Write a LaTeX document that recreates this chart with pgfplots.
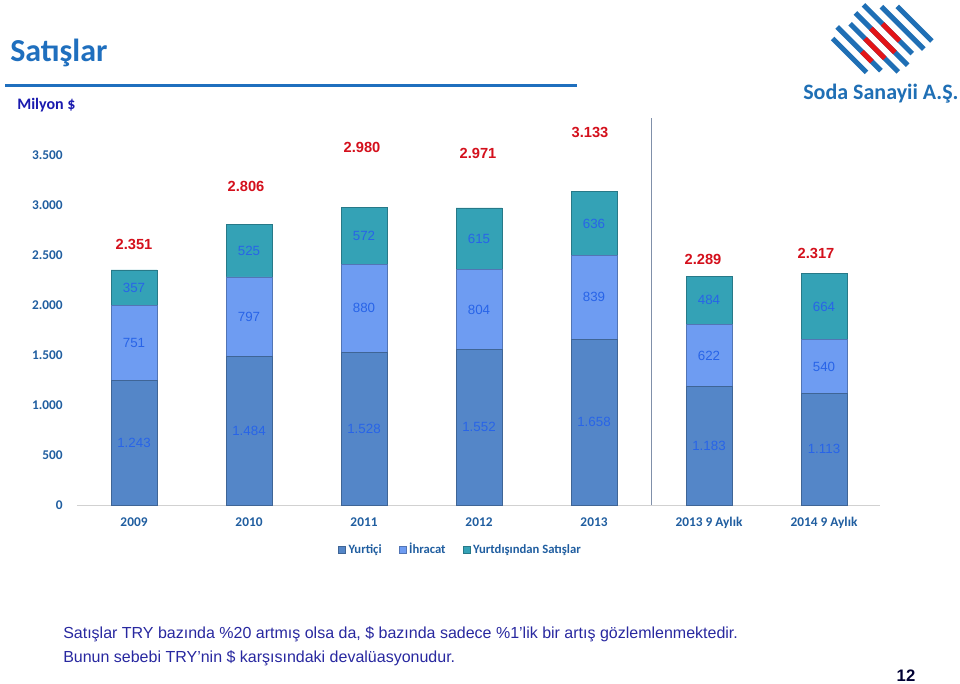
\documentclass[border=0pt]{standalone}
\usepackage{pgfplots}
\pgfplotsset{compat=1.18}
\usepackage{pgfplotstable}
\usepackage{fontspec}
\setmainfont{Carlito}
\newfontfamily\arial{Liberation Sans}

\definecolor{titleblue}{RGB}{31,111,190}
\definecolor{milyon}{RGB}{26,26,175}
\definecolor{tickblue}{RGB}{32,94,160}
\definecolor{valblue}{RGB}{40,100,232}
\definecolor{totred}{RGB}{212,16,28}
\definecolor{bodyblue}{RGB}{40,40,160}
\definecolor{yurtici}{RGB}{84,134,200}
\definecolor{ihracat}{RGB}{110,156,242}
\definecolor{yurtdisi}{RGB}{52,162,182}
\definecolor{sepline}{RGB}{128,144,170}
\definecolor{logoblue}{RGB}{31,111,181}
\definecolor{logored}{RGB}{226,20,24}

% milyon $ : yurtici, ihracat, yurtdisindan satislar
\pgfplotstableread{
x    yi   ih   yd
0    1243 751  357
1    1484 797  525
2    1528 880  572
3    1552 804  615
4    1658 839  636
5    1183 622  484
6    1113 540  664
}\satis

\begin{document}
\begin{tikzpicture}[toplam/.style={font=\arial\bfseries\fontsize{11}{13}\selectfont, text=totred, inner sep=0pt}]
\begin{scope}[x=0.75pt,y=0.75pt]
  \path[fill=white] (0,0) rectangle (960,683);
  % baslik
  \node[anchor=base west, inner sep=0pt, text=titleblue, font=\bfseries\fontsize{24}{28}\selectfont] at (10,621) {Satışlar};
  \draw[titleblue, line width=2.25pt] (5,597) -- (577,597);
  \node[anchor=base west, inner sep=0pt, text=milyon, font=\bfseries\fontsize{12}{14}\selectfont] at (17,573) {Milyon \$};
  % logo
  \foreach \k/\da/\db in {0/133/181,1/128/190,2/135/203,3/131/205,4/131/200,5/145/205,6/156/205}{
    \pgfmathsetmacro\pp{1044.5+11.4*\k}
    \draw[logoblue, line width=3.75pt] ({(\pp+\da)/sqrt(2)},{(\pp-\da)/sqrt(2)}) -- ({(\pp+\db)/sqrt(2)},{(\pp-\db)/sqrt(2)});
  }
  \foreach \k/\da/\db in {1/163/177,2/156/184,3/153/187,4/158/182}{
    \pgfmathsetmacro\pp{1044.5+11.4*\k}
    \draw[logored, line width=3.75pt] ({(\pp+\da)/sqrt(2)},{(\pp-\da)/sqrt(2)}) -- ({(\pp+\db)/sqrt(2)},{(\pp-\db)/sqrt(2)});
  }
  \node[anchor=base west, inner sep=0pt, text=logoblue, font=\bfseries\fontsize{16.5}{19}\selectfont] at (803,583) {Soda Sanayii A.Ş.};
  % alt metin
  \node[anchor=base west, inner sep=0pt, text=bodyblue, font=\arial\fontsize{12}{14}\selectfont] at (63,45) {Satışlar TRY bazında \%20 artmış olsa da, \$ bazında sadece \%1’lik bir artış gözlemlenmektedir.};
  \node[anchor=base west, inner sep=0pt, text=bodyblue, font=\arial\fontsize{12}{14}\selectfont] at (63,21) {Bunun sebebi TRY’nin \$ karşısındaki devalüasyonudur.};
  \node[anchor=base, inner sep=0pt, text=black!80!blue, font=\arial\bfseries\fontsize{12.5}{14}\selectfont] at (906,2) {12};
\end{scope}

\begin{axis}[
  at={(57.75pt,133.5pt)}, anchor=south west,
  x=86.25pt, y=0.075pt,
  xmin=-0.4957, xmax=6.487, ymin=0, ymax=3870,
  ybar stacked, bar width=34.5pt,
  axis x line*=bottom, axis y line*=left,
  x axis line style={draw=black!18, line width=0.75pt},
  y axis line style={draw=none},
  major tick length=0pt,
  xtick={0,...,6},
  xticklabels={2009,2010,2011,2012,2013,2013 9 Aylık,2014 9 Aylık},
  xticklabel style={anchor=base, yshift=-15.9pt, text=tickblue, font=\bfseries\fontsize{10}{12}\selectfont},
  ytick={0,500,...,3500},
  yticklabel style={xshift=-7.2pt, text=tickblue, font=\bfseries\fontsize{10}{12}\selectfont},
  scaled y ticks=false,
  /pgf/number format/.cd, 1000 sep={.}, assume math mode=true, /pgfplots/.cd,
  extra x ticks={4.5}, extra x tick labels={},
  extra x tick style={grid=major, major grid style={draw=sepline, line width=0.9pt}},
  nodes near coords,
  every node near coord/.append style={font=\arial\fontsize{10}{12}\selectfont, text=valblue, anchor=center},
  legend style={at={(0.478,-0.116)}, anchor=center, draw=none, fill=none, legend columns=-1,
    font=\bfseries\fontsize{9.5}{11}\selectfont, text=tickblue,
    nodes={text height=7pt, text depth=2pt},
    /tikz/every even column/.append style={column sep=11pt}},
  legend cell align=left,
  kutu/.style={legend image code/.code={\path[##1] (0pt,-2.6pt) rectangle (5.2pt,2.6pt);}},
]
\addplot[kutu, fill=yurtici, draw=yurtici!75!black, line width=0.5pt] table[x=x, y=yi] {\satis};
\addplot[kutu, fill=ihracat, draw=ihracat!75!black, line width=0.5pt] table[x=x, y=ih] {\satis};
\addplot[kutu, fill=yurtdisi, draw=yurtdisi!75!black, line width=0.5pt] table[x=x, y=yd] {\satis};
\legend{Yurtiçi,İhracat,Yurtdışından Satışlar}
\node[toplam] at (axis cs:0,2610) {2.351};
\node[toplam] at (axis cs:0.974,3190) {2.806};
\node[toplam] at (axis cs:1.983,3580) {2.980};
\node[toplam] at (axis cs:2.991,3520) {2.971};
\node[toplam] at (axis cs:3.965,3730) {3.133};
\node[toplam] at (axis cs:4.948,2460) {2.289};
\node[toplam] at (axis cs:5.93,2520) {2.317};
\end{axis}
\end{tikzpicture}
\end{document}
